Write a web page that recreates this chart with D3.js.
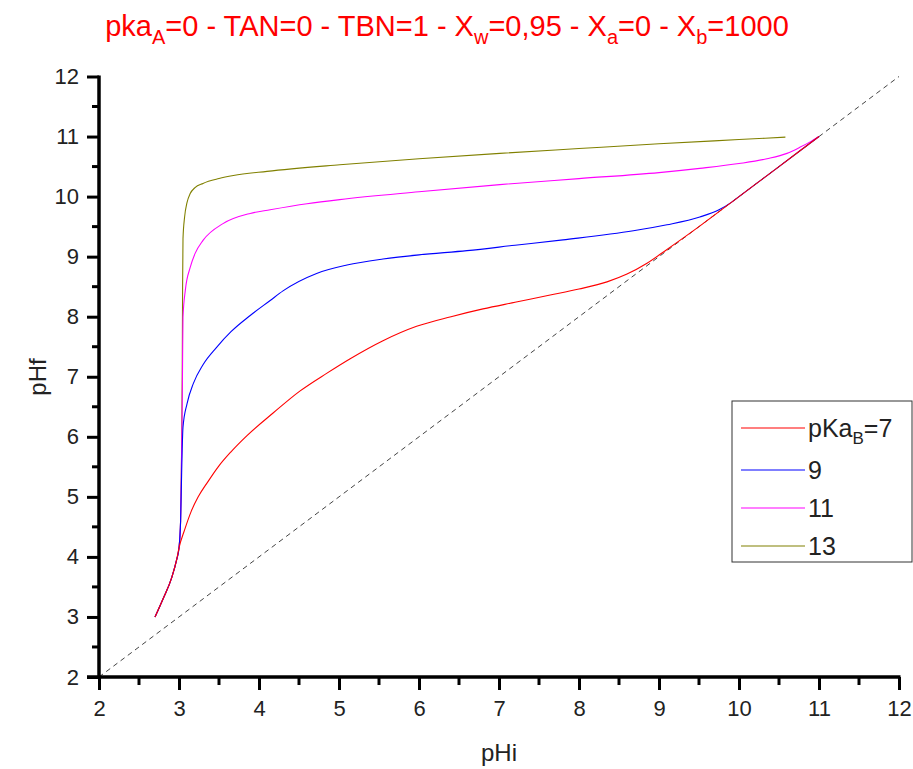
<!DOCTYPE html>
<html><head><meta charset="utf-8">
<script src="https://cdn.jsdelivr.net/npm/d3@7"></script>
<style>body{margin:0;background:#fff}svg{display:block}text{font-family:"Liberation Sans",Arial,sans-serif}</style>
</head><body><svg id="c" width="913" height="769"></svg>
<script>
const xTicks = [2,3,4,5,6,7,8,9,10,11,12];
const yTicks = [2,3,4,5,6,7,8,9,10,11,12];
const seriesNames = ["7","9","11","13"];
const seriesColors = ["#ff0000","#0000ff","#ff00ff","#808000"];
const commonStart = [[2.70,3.00],[2.80,3.30],[2.91,3.66],[2.97,3.95],[3.00,4.15]];
const red7 = [[3.07,4.45],[3.15,4.75],[3.24,5.0],[3.36,5.25],[3.49,5.5],[3.65,5.75],[3.85,6.02],[4.18,6.4],[4.51,6.76],[4.85,7.06],[5.14,7.3],[5.55,7.6],[5.97,7.84],[6.4,8.0],[6.8,8.13],[7.2,8.24],[7.64,8.36],[8.0,8.46],[8.35,8.58],[8.6,8.71],[8.85,8.89],[9.1,9.12],[9.5,9.5],[10,10],[10.5,10.5],[11,11]];
const blue9 = [[3.02,4.6],[3.03,5.2],[3.04,5.8],[3.05,6.16],[3.1,6.55],[3.18,6.89],[3.3,7.2],[3.47,7.49],[3.65,7.75],[3.89,8.02],[4.14,8.27],[4.3,8.43],[4.72,8.72],[5.1,8.86],[5.55,8.96],[6.0,9.03],[6.6,9.1],[7.2,9.19],[7.8,9.28],[8.68,9.43],[9.1,9.53],[9.51,9.66],[9.75,9.78],[9.9,9.9],[10.0,10.0],[10.5,10.5],[11,11]];
const magenta11 = [[3.02,4.6],[3.03,5.5],[3.04,6.5],[3.045,7.3],[3.05,7.99],[3.08,8.45],[3.14,8.82],[3.2,9.05],[3.3,9.27],[3.55,9.55],[3.89,9.72],[4.14,9.78],[4.6,9.88],[5.01,9.95],[6,10.08],[7.01,10.2],[8,10.3],[9,10.4],[9.51,10.47],[10,10.55],[10.35,10.63],[10.6,10.72],[10.76,10.82],[10.9,10.92],[11,11]];
const olive13 = [[3.02,4.6],[3.03,5.5],[3.04,7],[3.045,8.5],[3.05,9.3],[3.07,9.66],[3.1,9.9],[3.14,10.05],[3.2,10.15],[3.3,10.22],[3.5,10.3],[3.68,10.35],[4.1,10.42],[5.01,10.53],[6,10.63],[7.01,10.72],[8,10.8],[9,10.88],[10,10.95],[10.58,10.99]];
const diagonal = [[2,2],[12,12]];

const svg = d3.select("#c");
const x = d3.scaleLinear().domain([2,12]).range([99,899]);
const y = d3.scaleLinear().domain([2,12]).range([677,76.5]);

// title
const t = svg.append("text").attr("x",447).attr("y",36).attr("text-anchor","middle")
  .attr("fill","#ff0000").attr("font-size",29);
const parts = [["pka",""],["A","sub"],["=0 - TAN=0 - TBN=1 - X",""],["w","sub"],["=0,95 - X",""],["a","sub"],["=0 - X",""],["b","sub"],["=1000",""]];
let prevSub = false;
parts.forEach(([s,k])=>{
  const ts = t.append("tspan").text(s);
  if(k==="sub"){ts.attr("dy",8).attr("font-size",20);prevSub=true;}
  else if(prevSub){ts.attr("dy",-8);prevSub=false;}
});

// diagonal
const line = d3.line().x(d=>x(d[0])).y(d=>y(d[1]));
svg.append("path").datum(diagonal).attr("d",line).attr("fill","none")
  .attr("stroke","#444").attr("stroke-width",1).attr("stroke-dasharray","5,4");

// curves
const curveLine = d3.line().x(d=>x(d[0])).y(d=>y(d[1])).curve(d3.curveMonotoneX);
const series = [red7, blue9, magenta11, olive13];
series.slice().reverse().forEach((s,i)=>{
  const idx = series.length-1-i;
  svg.append("path").datum(commonStart.concat(s)).attr("d",curveLine)
    .attr("fill","none").attr("stroke",seriesColors[idx]).attr("stroke-width",1.1);
});

// axes
const xAxis = d3.axisBottom(x).tickValues(xTicks).tickSize(13).tickPadding(10).tickFormat(d3.format("d"));
const gx = svg.append("g").attr("transform","translate(0,677)").call(xAxis);
const yAxis = d3.axisLeft(y).tickValues(yTicks).tickSize(12).tickPadding(8).tickFormat(d3.format("d"));
const gy = svg.append("g").attr("transform","translate(99,0)").call(yAxis);
// minor ticks
const minor = d3.range(2.5,12,1);
gx.selectAll(".minor").data(minor).enter().append("line").attr("x1",d=>x(d)).attr("x2",d=>x(d)).attr("y1",0).attr("y2",8);
gy.selectAll(".minor").data(minor).enter().append("line").attr("y1",d=>y(d)).attr("y2",d=>y(d)).attr("x1",0).attr("x2",-7);
[gx,gy].forEach(g=>{
  g.select(".domain").style("stroke","#000").style("stroke-width","3.5px");
  g.selectAll("line").style("stroke","#000").style("stroke-width","3px");
  g.selectAll("text").style("font-size","22px").style("fill","#222").style("font-family","Liberation Sans, Arial, sans-serif");
});
gx.select(".domain").attr("d","M87,0H900.5");
gy.select(".domain").attr("d","M0,678.75V75.5");

svg.append("text").attr("x",499).attr("y",761).attr("text-anchor","middle").attr("font-size",24).attr("fill","#222").text("pHi");
svg.append("text").attr("transform","translate(46,377) rotate(-90)").attr("text-anchor","middle").attr("font-size",24).attr("fill","#222").text("pHf");

// legend
const lg = svg.append("g");
lg.append("rect").attr("x",732).attr("y",401).attr("width",180).attr("height",161).attr("fill","#fff").attr("stroke","#333").attr("stroke-width",1);
const rowY = [428,470,508,546];
seriesNames.forEach((n,i)=>{
  lg.append("line").attr("x1",741).attr("x2",805).attr("y1",rowY[i]).attr("y2",rowY[i]).attr("stroke",seriesColors[i]).attr("stroke-width",1.1);
  const tx = lg.append("text").attr("x",808).attr("y",rowY[i]+9).attr("font-size",25).attr("fill","#222");
  if(i===0){
    tx.append("tspan").text("pKa");
    tx.append("tspan").attr("dy",7).attr("font-size",17).text("B");
    tx.append("tspan").attr("dy",-7).text("=7");
  } else tx.text(n);
});
</script></body></html>
